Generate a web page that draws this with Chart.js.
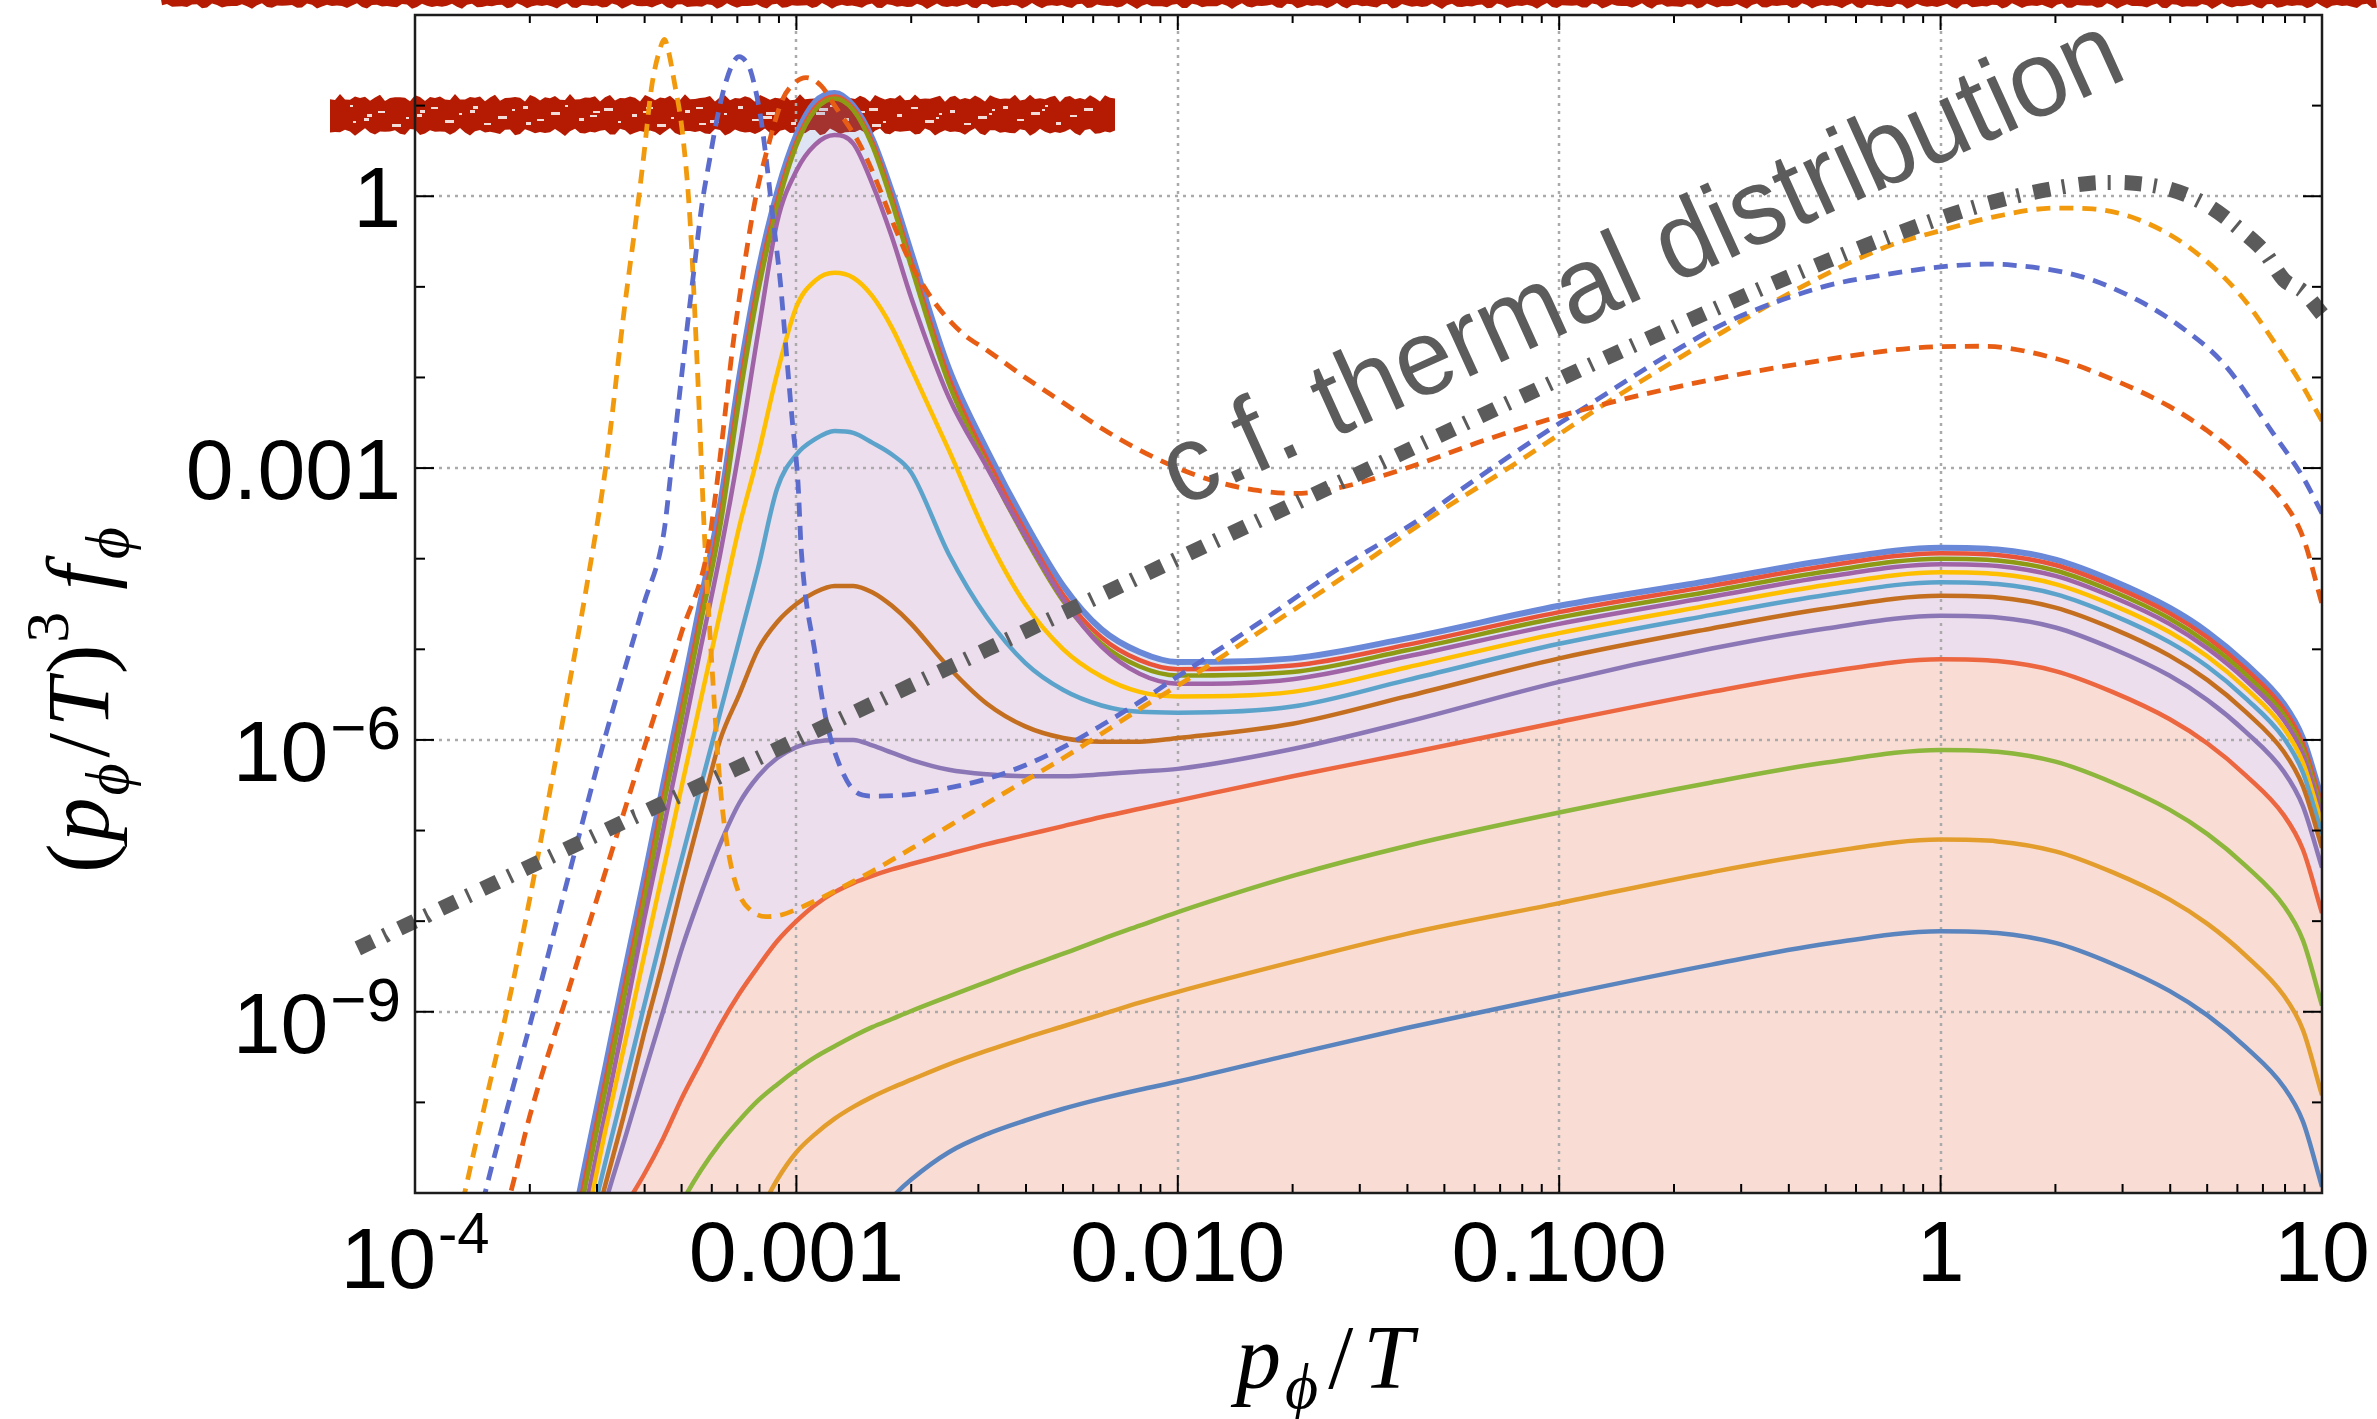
<!DOCTYPE html>
<html>
<head>
<meta charset="utf-8">
<script src="https://cdn.jsdelivr.net/npm/chart.js@4.4.1/dist/chart.umd.min.js"></script>
<style>
  html, body { margin: 0; padding: 0; background: #ffffff; }
  #spectrum { display: block; }
</style>
</head>
<body>
<canvas id="spectrum" width="2377" height="1419"></canvas>
<script>
// momentum grid p/T shared by the solid curves
const pT = [2.51e-4, 2.82e-4, 3.16e-4, 3.55e-4, 3.98e-4, 4.47e-4, 5.01e-4, 5.62e-4, 6.31e-4, 7.08e-4,
  7.94e-4, 8.91e-4, 1.0e-3, 1.12e-3, 1.26e-3, 1.41e-3, 1.58e-3, 1.78e-3, 2.0e-3, 2.51e-3,
  3.16e-3, 3.98e-3, 5.01e-3, 6.31e-3, 7.94e-3, 1.0e-2, 2.0e-2, 3.98e-2, 0.1, 0.251,
  0.501, 1, 1.41, 2.0, 2.82, 3.98, 5.01, 6.31, 7.94, 8.91, 10];

// (p/T)^3 f for each solid curve, top to bottom
const fBlue = [2.24e-12, 2.51e-11, 2.51e-10, 2.82e-9, 2.82e-8, 3.16e-7, 3.16e-6, 3.55e-5, 3.98e-4, 1.0e-2,
  0.148, 1.12, 4.79, 11.0, 13.8, 10.0, 4.37, 1.12, 0.240, 1.26e-2,
  1.58e-3, 2.51e-4, 5.01e-5, 1.66e-5, 9.33e-6, 7.24e-6, 7.94e-6, 1.32e-5, 3.02e-5, 5.75e-5,
  9.55e-5, 1.32e-4, 1.26e-4, 9.77e-5, 5.75e-5, 2.88e-5, 1.55e-5, 6.92e-6, 2.51e-6, 1.05e-6, 2.19e-7];
const fRed = [1.58e-12, 1.78e-11, 1.78e-10, 2.0e-9, 2.0e-8, 2.24e-7, 2.24e-6, 2.51e-5, 2.82e-4, 7.08e-3,
  0.110, 0.891, 3.98, 9.55, 12.6, 9.33, 3.98, 0.955, 0.191, 1.0e-2,
  1.26e-3, 2.0e-4, 3.98e-5, 1.35e-5, 7.59e-6, 6.03e-6, 6.61e-6, 1.12e-5, 2.57e-5, 5.01e-5,
  8.32e-5, 1.15e-4, 1.10e-4, 8.51e-5, 5.01e-5, 2.51e-5, 1.35e-5, 6.03e-6, 2.19e-6, 9.12e-7, 1.91e-7];
const fOlive = [1.26e-12, 1.41e-11, 1.41e-10, 1.58e-9, 1.58e-8, 1.78e-7, 1.78e-6, 2.0e-5, 2.24e-4, 5.62e-3,
  8.91e-2, 0.759, 3.63, 8.91, 12.0, 8.91, 3.63, 0.851, 0.166, 8.51e-3,
  1.07e-3, 1.70e-4, 3.39e-5, 1.15e-5, 6.46e-6, 5.13e-6, 5.62e-6, 9.77e-6, 2.24e-5, 4.37e-5,
  7.24e-5, 1.0e-4, 9.55e-5, 7.41e-5, 4.37e-5, 2.19e-5, 1.17e-5, 5.25e-6, 1.91e-6, 7.94e-7, 1.66e-7];
const fPurple = [7.94e-13, 7.94e-12, 7.94e-11, 8.91e-10, 1.0e-8, 1.0e-7, 1.0e-6, 1.07e-5, 1.12e-4, 1.58e-3,
  3.16e-2, 0.525, 1.91, 3.72, 4.75, 3.80, 1.38, 0.355, 7.59e-2, 6.03e-3,
  1.02e-3, 1.78e-4, 3.55e-5, 1.07e-5, 5.37e-6, 4.17e-6, 4.68e-6, 8.32e-6, 1.91e-5, 3.80e-5,
  6.31e-5, 8.71e-5, 8.32e-5, 6.46e-5, 3.80e-5, 1.91e-5, 1.02e-5, 4.57e-6, 1.66e-6, 6.92e-7, 1.45e-7];
const fYellow = [6.31e-13, 5.01e-12, 5.01e-11, 4.47e-10, 3.98e-9, 3.55e-8, 3.16e-7, 2.82e-6, 2.51e-5, 2.24e-4,
  1.41e-3, 1.12e-2, 6.03e-2, 0.117, 0.143, 0.126, 7.94e-2, 3.55e-2, 1.26e-2, 1.58e-3,
  1.78e-4, 3.16e-5, 1.0e-5, 5.01e-6, 3.39e-6, 3.02e-6, 3.39e-6, 6.31e-6, 1.51e-5, 3.09e-5,
  5.13e-5, 7.08e-5, 6.76e-5, 5.25e-5, 3.09e-5, 1.55e-5, 8.32e-6, 3.72e-6, 1.35e-6, 5.62e-7, 1.17e-7];
const fSky = [5.01e-13, 3.16e-12, 2.24e-11, 1.58e-10, 1.12e-9, 7.94e-9, 5.01e-8, 3.16e-7, 2.0e-6, 1.26e-5,
  7.94e-5, 6.03e-4, 1.41e-3, 2.09e-3, 2.57e-3, 2.45e-3, 1.91e-3, 1.41e-3, 8.91e-4, 1.12e-4,
  2.24e-5, 7.08e-6, 3.55e-6, 2.40e-6, 2.04e-6, 2.0e-6, 2.34e-6, 4.57e-6, 1.15e-5, 2.40e-5,
  3.98e-5, 5.50e-5, 5.25e-5, 4.07e-5, 2.40e-5, 1.20e-5, 6.46e-6, 2.88e-6, 1.05e-6, 4.37e-7, 9.12e-8];
const fBrown = [3.16e-13, 2.0e-12, 1.26e-11, 7.94e-11, 5.62e-10, 3.55e-9, 2.51e-8, 1.58e-7, 1.0e-6, 3.16e-6,
  1.0e-5, 2.0e-5, 3.16e-5, 4.27e-5, 5.01e-5, 5.01e-5, 4.27e-5, 3.02e-5, 1.91e-5, 6.31e-6,
  2.51e-6, 1.41e-6, 1.05e-6, 9.55e-7, 9.55e-7, 1.05e-6, 1.51e-6, 3.02e-6, 7.94e-6, 1.70e-5,
  2.82e-5, 3.89e-5, 3.72e-5, 2.88e-5, 1.70e-5, 8.51e-6, 4.57e-6, 2.04e-6, 7.41e-7, 3.09e-7, 6.46e-8];
const fViolet = [1.58e-13, 1.26e-12, 7.94e-12, 3.98e-11, 2.0e-10, 1.0e-9, 5.01e-9, 2.0e-8, 7.08e-8, 2.0e-7,
  3.98e-7, 6.31e-7, 8.32e-7, 9.55e-7, 1.0e-6, 1.0e-6, 8.71e-7, 7.24e-7, 6.03e-7, 4.68e-7,
  4.17e-7, 3.98e-7, 3.98e-7, 4.17e-7, 4.47e-7, 4.79e-7, 7.94e-7, 1.58e-6, 4.37e-6, 1.02e-5,
  1.70e-5, 2.34e-5, 2.24e-5, 1.74e-5, 1.02e-5, 5.13e-6, 2.75e-6, 1.23e-6, 4.47e-7, 1.86e-7, 3.89e-8];
const fVermilion = [1.0e-13, 6.0e-13, 3.16e-12, 7.08e-12, 1.58e-11, 3.98e-11, 1.12e-10, 2.82e-10, 7.08e-10, 1.58e-9,
  3.16e-9, 6.03e-9, 1.0e-8, 1.51e-8, 2.09e-8, 2.63e-8, 3.16e-8, 3.72e-8, 4.27e-8, 5.50e-8,
  7.08e-8, 8.91e-8, 1.12e-7, 1.41e-7, 1.74e-7, 2.14e-7, 3.98e-7, 7.08e-7, 1.58e-6, 3.39e-6,
  5.62e-6, 7.76e-6, 7.41e-6, 5.75e-6, 3.39e-6, 1.70e-6, 9.12e-7, 4.07e-7, 1.48e-7, 6.17e-8, 1.23e-8];
const fGreen = [1e-13, 1e-13, 1e-13, 1e-13, 6.31e-13, 3.16e-12, 7.94e-12, 1.78e-11, 3.55e-11, 6.31e-11,
  1.05e-10, 1.58e-10, 2.29e-10, 3.16e-10, 4.17e-10, 5.37e-10, 6.76e-10, 8.32e-10, 1.02e-9, 1.48e-9,
  2.14e-9, 3.09e-9, 4.37e-9, 6.31e-9, 8.91e-9, 1.26e-8, 3.16e-8, 6.76e-8, 1.58e-7, 3.39e-7,
  5.62e-7, 7.76e-7, 7.41e-7, 5.75e-7, 3.39e-7, 1.70e-7, 9.12e-8, 4.07e-8, 1.48e-8, 6.17e-9, 1.17e-9];
const fAmber = [1e-13, 1e-13, 1e-13, 1e-13, 1e-13, 1e-13, 1e-13, 1e-13, 3.98e-13, 2.0e-12,
  5.62e-12, 1.41e-11, 2.82e-11, 4.47e-11, 6.61e-11, 8.91e-11, 1.15e-10, 1.45e-10, 1.78e-10, 2.63e-10,
  3.72e-10, 5.13e-10, 6.92e-10, 9.33e-10, 1.26e-9, 1.66e-9, 3.55e-9, 7.24e-9, 1.58e-8, 3.47e-8,
  5.75e-8, 7.94e-8, 7.59e-8, 5.89e-8, 3.47e-8, 1.74e-8, 9.33e-9, 4.17e-9, 1.51e-9, 6.31e-10, 1.20e-10];
const fSteel = [1e-13, 1e-13, 1e-13, 1e-13, 1e-13, 1e-13, 1e-13, 1e-13, 1e-13, 1e-13,
  1e-13, 1e-13, 1e-13, 1e-13, 1e-13, 2.0e-12, 5.01e-12, 8.91e-12, 1.41e-11, 2.82e-11,
  4.47e-11, 6.31e-11, 8.51e-11, 1.10e-10, 1.38e-10, 1.70e-10, 3.39e-10, 6.61e-10, 1.51e-9, 3.31e-9,
  5.62e-9, 7.76e-9, 7.41e-9, 5.75e-9, 3.39e-9, 1.70e-9, 9.12e-10, 4.07e-10, 1.48e-10, 6.17e-11, 1.17e-11];

// dashed curves, each on its own p/T sampling
const pDashOrange = [1.26e-4, 1.35e-4, 1.51e-4, 1.78e-4, 2.0e-4, 2.24e-4, 2.51e-4, 2.82e-4, 3.16e-4, 3.55e-4,
  3.80e-4, 3.98e-4, 4.17e-4, 4.37e-4, 4.51e-4, 4.62e-4, 4.79e-4, 5.01e-4, 5.25e-4, 5.50e-4,
  5.75e-4, 6.03e-4, 6.31e-4, 6.61e-4, 7.08e-4, 7.59e-4, 8.32e-4, 9.12e-4, 1.0e-3, 1.26e-3,
  1.58e-3, 2.0e-3, 2.51e-3, 3.16e-3, 3.98e-3, 5.01e-3, 6.31e-3, 7.94e-3, 1.0e-2, 1.58e-2,
  2.51e-2, 4.47e-2, 7.94e-2, 0.132, 0.240, 0.432, 0.718, 1.0, 1.41, 2.0,
  2.51, 3.31, 4.47, 6.11, 7.80, 8.91, 10];
const fDashOrange = [2.51e-12, 1.0e-11, 7.94e-11, 1.58e-9, 1.78e-8, 2.24e-7, 3.16e-6, 5.01e-5, 1.0e-3, 6.31e-2,
  0.562, 2.82, 15.8, 39.8, 53.7, 39.8, 17.8, 5.62, 0.631, 1.26e-2,
  1.58e-4, 5.01e-6, 3.16e-7, 6.31e-8, 2.0e-8, 1.32e-8, 1.12e-8, 1.17e-8, 1.35e-8, 2.14e-8,
  3.55e-8, 6.31e-8, 1.12e-7, 2.0e-7, 3.55e-7, 6.31e-7, 1.17e-6, 2.19e-6, 3.98e-6, 1.41e-5,
  5.01e-5, 2.63e-4, 1.23e-3, 5.13e-3, 2.40e-2, 0.1, 0.275, 0.417, 0.603, 0.741,
  0.724, 0.550, 0.275, 8.13e-2, 1.91e-2, 7.94e-3, 3.31e-3];
const pDashBlue = [1.41e-4, 1.58e-4, 2.0e-4, 2.51e-4, 3.16e-4, 3.98e-4, 4.49e-4, 4.70e-4, 4.92e-4, 5.15e-4,
  5.40e-4, 5.65e-4, 5.92e-4, 6.19e-4, 6.49e-4, 6.84e-4, 7.08e-4, 7.33e-4, 7.59e-4, 8.04e-4,
  8.28e-4, 8.67e-4, 9.08e-4, 9.40e-4, 9.73e-4, 1.01e-3, 1.03e-3, 1.12e-3, 1.20e-3, 1.29e-3,
  1.41e-3, 1.58e-3, 2.0e-3, 2.51e-3, 3.16e-3, 3.98e-3, 5.01e-3, 6.31e-3, 7.94e-3, 1.0e-2,
  1.58e-2, 2.51e-2, 4.39e-2, 5.65e-2, 9.40e-2, 0.121, 0.156, 0.210, 0.282, 0.491,
  0.661, 1.0, 1.32, 1.54, 2.35, 3.30, 4.26, 5.53, 7.43, 8.91, 10];
const fDashBlue = [2.51e-12, 1.78e-11, 7.08e-10, 2.82e-8, 1.12e-6, 3.16e-5, 1.91e-4, 1.0e-3, 5.62e-3, 3.09e-2,
  0.166, 0.794, 2.51, 7.08, 16.6, 30.2, 34.7, 31.6, 24.0, 7.94,
  3.24, 0.596, 0.110, 2.0e-2, 3.72e-3, 6.76e-4, 1.23e-4, 8.91e-6, 1.58e-6, 5.62e-7,
  2.82e-7, 2.40e-7, 2.51e-7, 2.95e-7, 3.72e-7, 5.25e-7, 8.32e-7, 1.45e-6, 2.63e-6, 5.01e-6,
  1.78e-5, 6.76e-5, 2.88e-4, 6.17e-4, 2.63e-3, 5.13e-3, 1.02e-2, 2.19e-2, 4.27e-2, 0.1,
  0.129, 0.166, 0.178, 0.174, 0.129, 7.08e-2, 3.63e-2, 1.41e-2, 2.45e-3, 7.94e-4, 3.16e-4];
const pDashRed = [1.58e-4, 1.78e-4, 2.0e-4, 2.51e-4, 3.16e-4, 3.98e-4, 5.01e-4, 5.85e-4, 6.19e-4, 6.49e-4,
  6.79e-4, 7.29e-4, 7.80e-4, 8.38e-4, 9.18e-4, 9.89e-4, 1.06e-3, 1.16e-3, 1.26e-3, 1.46e-3,
  1.58e-3, 1.84e-3, 2.0e-3, 2.31e-3, 2.72e-3, 3.16e-3, 3.98e-3, 5.01e-3, 6.31e-3, 7.94e-3,
  1.0e-2, 1.26e-2, 1.58e-2, 2.04e-2, 2.63e-2, 3.98e-2, 6.31e-2, 0.1, 0.186, 0.427,
  1.0, 1.29, 2.0, 2.82, 3.98, 5.01, 6.31, 7.94, 8.91, 10];
const fDashRed = [2.0e-12, 1.0e-11, 7.08e-11, 1.58e-9, 3.55e-8, 7.94e-7, 1.58e-5, 1.23e-4, 6.76e-4, 3.72e-3,
  2.0e-2, 0.166, 0.912, 3.24, 11.5, 17.8, 20.4, 16.6, 10.0, 3.85,
  1.91, 0.389, 0.178, 6.61e-2, 3.09e-2, 2.0e-2, 1.0e-2, 5.25e-3, 2.75e-3, 1.58e-3,
  1.0e-3, 7.08e-4, 5.75e-4, 5.25e-4, 6.03e-4, 1.0e-3, 2.0e-3, 3.72e-3, 7.24e-3, 1.41e-2,
  2.19e-2, 2.21e-2, 1.62e-2, 9.55e-3, 4.79e-3, 2.57e-3, 1.15e-3, 4.17e-4, 1.74e-4, 3.16e-5];

// thermal reference line
const pThermal = [7.08e-5, 1.0e-4, 3.16e-4, 1.0e-3, 3.16e-3, 1.0e-2, 3.16e-2, 0.1, 0.251, 0.501,
  1.0, 1.41, 2.0, 2.51, 2.82, 3.16, 3.98, 5.01, 6.31, 7.08, 7.94, 8.91, 10];
const fThermal = [5.01e-9, 1.0e-8, 1.0e-7, 1.0e-6, 1.0e-5, 1.0e-4, 9.77e-4, 9.55e-3, 5.50e-2, 0.191,
  0.575, 0.891, 1.23, 1.40, 1.42, 1.40, 1.20, 0.794, 0.380, 0.240, 0.120, 8.91e-2, 5.01e-2];

// axis ticks and labels
const xMajorTicks = [1e-4, 1e-3, 1e-2, 1e-1, 1, 10];
const xTickLabels = ['10^-4', '0.001', '0.010', '0.100', '1', '10'];
const xGridLines = [1e-3, 1e-2, 1e-1, 1];
const xMinorSteps = [2, 3, 4, 5, 6, 7, 8, 9];
const yMajorTicks = [1e-9, 1e-6, 1e-3, 1];
const yTickLabels = ['10^\u22129', '10^\u22126', '0.001', '1'];
const yMinorTicks = [1e-10, 1e-8, 1e-7, 1e-5, 1e-4, 1e-2, 1e-1, 10];

const SANS = '"Liberation Sans", Arial, Helvetica, sans-serif';
const SERIF = '"Liberation Serif", "DejaVu Serif", "Times New Roman", serif';

function points(xs, ys) {
  return xs.map((x, i) => ({ x: x, y: ys[i] }));
}

function solid(label, xs, ys, color, order, extra) {
  return Object.assign({
    label: label,
    data: points(xs, ys),
    borderColor: color,
    borderWidth: 4.5,
    fill: false,
    order: order
  }, extra || {});
}

function dashed(label, xs, ys, color, order) {
  return {
    label: label,
    data: points(xs, ys),
    borderColor: color,
    borderWidth: 4.8,
    borderDash: [14, 9],
    fill: false,
    order: order
  };
}

const datasets = [
  {
    label: 'thermal',
    data: points(pThermal, fThermal),
    borderColor: '#5b5b5b',
    borderWidth: 15,
    borderDash: [17, 12, 3, 14],
    borderCapStyle: 'butt',
    fill: false,
    clip: false,
    order: 0
  },
  dashed('dash red', pDashRed, fDashRed, '#e85d14', 1),
  dashed('dash blue', pDashBlue, fDashBlue, '#5b6ccc', 2),
  dashed('dash orange', pDashOrange, fDashOrange, '#f29a0e', 3),
  solid('steel', pT, fSteel, '#5a84be', 4),
  solid('amber', pT, fAmber, '#e39d2d', 5),
  solid('green', pT, fGreen, '#8cb63c', 6),
  solid('vermilion', pT, fVermilion, '#ec6640', 7, { fill: 'start', backgroundColor: '#f9ddd5' }),
  solid('violet', pT, fViolet, '#8b77b6', 8),
  solid('brown', pT, fBrown, '#c46f1f', 9),
  solid('sky', pT, fSky, '#5ca3cb', 10),
  solid('yellow', pT, fYellow, '#fdbf00', 11),
  solid('purple', pT, fPurple, '#a063a6', 12, { fill: 'start', backgroundColor: '#ecdeec' }),
  solid('olive', pT, fOlive, '#8f9a14', 13),
  solid('red', pT, fRed, '#e8533a', 14),
  solid('blue', pT, fBlue, '#6a88d8', 15, { borderWidth: 6, fill: 'start', backgroundColor: 'rgba(105, 130, 205, 0.22)' })
];

// rough hand-drawn marker band
function scribble(ctx, x0, x1, yTop, yBot, amp, phase) {
  ctx.fillStyle = '#b51b02';
  ctx.beginPath();
  ctx.moveTo(x0, yTop);
  for (let x = x0; x <= x1; x += 5) {
    ctx.lineTo(x, yTop + amp * Math.sin(x * 0.41 + phase) * Math.cos(x * 0.083));
  }
  for (let x = x1; x >= x0; x -= 5) {
    ctx.lineTo(x, yBot + amp * Math.sin(x * 0.33 + 2 * phase) * Math.cos(x * 0.061));
  }
  ctx.closePath();
  ctx.fill();
}

function scribbleSpecks(ctx, x0, x1, yTop, yBot) {
  ctx.fillStyle = 'rgba(255,255,255,0.85)';
  const w = x1 - x0 - 40;
  const h = yBot - yTop - 14;
  for (let i = 0; i < 70; i++) {
    const sx = x0 + 20 + ((i * 173) % w);
    const sy = yTop + 7 + ((i * 61) % h);
    ctx.fillRect(sx, sy, 3 + (i % 4) * 2, 2 + (i % 2));
  }
}

// text made of pieces: base, subscript and superscript runs
function pieceWidth(ctx, pieces) {
  let w = 0;
  for (const p of pieces) {
    ctx.font = p.font;
    w += ctx.measureText(p.t).width + (p.gap || 0);
  }
  return w;
}

function drawPieces(ctx, pieces, x, y) {
  let cx = x;
  for (const p of pieces) {
    ctx.font = p.font;
    ctx.fillText(p.t, cx, y + (p.dy || 0));
    cx += ctx.measureText(p.t).width + (p.gap || 0);
  }
}

function tickLabelPieces(text, size, supSize, supRaise) {
  if (text.indexOf('^') < 0) return [{ t: text, font: size + 'px ' + SANS }];
  const parts = text.split('^');
  return [
    { t: parts[0], font: size + 'px ' + SANS, gap: 2 },
    { t: parts[1], font: supSize + 'px ' + SANS, dy: -supRaise }
  ];
}

const decorPlugin = {
  id: 'decor',
  beforeDraw(chart) {
    const ctx = chart.ctx;
    ctx.save();
    ctx.fillStyle = '#ffffff';
    ctx.fillRect(0, 0, chart.width, chart.height);
    scribble(ctx, 330, 1115, 98, 132, 4, 0.3);
    scribbleSpecks(ctx, 330, 1115, 98, 132);
    scribble(ctx, 160, 2377, -6, 6, 3, 1.7);
    ctx.restore();
  },
  beforeDatasetsDraw(chart) {
    const { ctx, chartArea: a, scales } = chart;
    ctx.save();
    ctx.strokeStyle = '#aaaaaa';
    ctx.lineWidth = 2.5;
    ctx.setLineDash([3, 5]);
    for (const v of xGridLines) {
      const px = Math.round(scales.x.getPixelForValue(v));
      ctx.beginPath(); ctx.moveTo(px, a.top); ctx.lineTo(px, a.bottom); ctx.stroke();
    }
    for (const v of yMajorTicks) {
      const py = Math.round(scales.y.getPixelForValue(v));
      ctx.beginPath(); ctx.moveTo(a.left, py); ctx.lineTo(a.right, py); ctx.stroke();
    }
    ctx.restore();
  },
  afterDatasetsDraw(chart) {
    const { ctx, chartArea: a, scales } = chart;
    const xs = scales.x, ys = scales.y;
    ctx.save();

    // ticks pointing into the frame on all four sides
    ctx.strokeStyle = '#000000';
    ctx.lineWidth = 2;
    ctx.setLineDash([]);
    const tick = (x0, y0, x1, y1) => { ctx.beginPath(); ctx.moveTo(x0, y0); ctx.lineTo(x1, y1); ctx.stroke(); };
    for (const v of yMajorTicks) {
      const py = ys.getPixelForValue(v);
      tick(a.left, py, a.left + 19, py);
      tick(a.right, py, a.right - 19, py);
    }
    for (const v of yMinorTicks) {
      const py = ys.getPixelForValue(v);
      tick(a.left, py, a.left + 10, py);
      tick(a.right, py, a.right - 10, py);
    }
    for (const v of xMajorTicks) {
      const px = xs.getPixelForValue(v);
      tick(px, a.bottom, px, a.bottom - 18);
      tick(px, a.top, px, a.top + 15);
    }
    for (const d of xMajorTicks.slice(0, 5)) {
      for (const m of xMinorSteps) {
        const px = xs.getPixelForValue(d * m);
        tick(px, a.bottom, px, a.bottom - 9);
        tick(px, a.top, px, a.top + 8);
      }
    }

    // frame
    ctx.strokeStyle = '#1c1c1c';
    ctx.lineWidth = 2.5;
    ctx.strokeRect(a.left, a.top, a.right - a.left, a.bottom - a.top);

    // tick labels
    ctx.fillStyle = '#000000';
    ctx.textBaseline = 'alphabetic';
    ctx.textAlign = 'left';
    xMajorTicks.forEach((v, i) => {
      const text = xTickLabels[i];
      const pieces = tickLabelPieces(text, 86, 58, 35);
      const w = pieceWidth(ctx, pieces);
      const px = xs.getPixelForValue(v);
      const base = text.indexOf('^') < 0 ? 1281 : 1288;
      drawPieces(ctx, pieces, px - w / 2, base);
    });
    yMajorTicks.forEach((v, i) => {
      const text = yTickLabels[i];
      const pieces = tickLabelPieces(text, 86, 62, 32);
      const w = pieceWidth(ctx, pieces);
      const py = ys.getPixelForValue(v);
      const base = text.indexOf('^') < 0 ? py + 31 : py + 41;
      drawPieces(ctx, pieces, 401 - w, base);
    });

    // axis titles
    const it = (s) => 'italic ' + s + 'px ' + SERIF;
    const up = (s) => s + 'px ' + SERIF;
    const xTitle = [
      { t: 'p', font: it(90), gap: 4 },
      { t: '\u03D5', font: it(64), dy: 20, gap: 10 },
      { t: '/', font: up(90), gap: 10 },
      { t: 'T', font: it(90) }
    ];
    drawPieces(ctx, xTitle, 1236, 1388);

    const yTitle = [
      { t: '(', font: up(88), gap: 2 },
      { t: 'p', font: it(88), gap: 2 },
      { t: '\u03D5', font: it(62), dy: 20, gap: 6 },
      { t: '/', font: up(88), gap: 6 },
      { t: 'T', font: it(88), gap: 4 },
      { t: ')', font: up(88), gap: 2 },
      { t: '3', font: up(62), dy: -40, gap: 22 },
      { t: 'f', font: it(88), gap: 6 },
      { t: '\u03D5', font: it(62), dy: 20 }
    ];
    const yw = pieceWidth(ctx, yTitle);
    ctx.save();
    ctx.translate(108, 700);
    ctx.rotate(-Math.PI / 2);
    drawPieces(ctx, yTitle, -yw / 2, 0);
    ctx.restore();

    // annotation along the thermal line
    ctx.save();
    ctx.translate(1180, 508);
    ctx.rotate(-24.4 * Math.PI / 180);
    ctx.scale(0.96, 1);
    ctx.fillStyle = '#5c5c5c';
    ctx.font = '108px ' + SANS;
    ctx.fillText('c.f. thermal distribution', 0, 0);
    ctx.restore();

    ctx.restore();
  }
};

new Chart(document.getElementById('spectrum').getContext('2d'), {
  type: 'line',
  data: { datasets: datasets },
  options: {
    responsive: false,
    animation: false,
    events: [],
    layout: { padding: { left: 415, right: 55, top: 15, bottom: 226 } },
    elements: {
      point: { radius: 0 },
      line: { cubicInterpolationMode: 'monotone', borderCapStyle: 'butt' }
    },
    scales: {
      x: { type: 'logarithmic', min: 1e-4, max: 10, display: false },
      y: { type: 'logarithmic', min: 1e-11, max: 100, display: false }
    },
    plugins: {
      legend: { display: false },
      tooltip: { enabled: false },
      filler: { drawTime: 'beforeDatasetsDraw', propagate: false }
    }
  },
  plugins: [decorPlugin]
});
</script>
</body>
</html>
